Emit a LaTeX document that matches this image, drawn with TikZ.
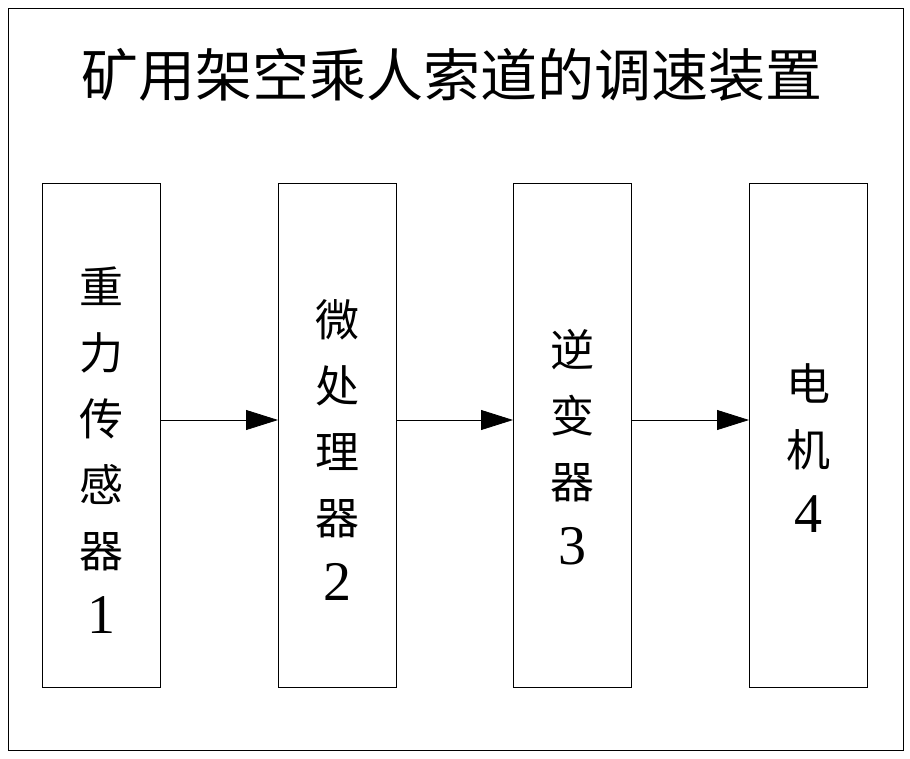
\documentclass[tikz,border=0pt]{standalone}
\usepackage{fontspec}
\setmainfont{Liberation Serif}
\newfontfamily\cjk{Noto Sans CJK SC}
\usetikzlibrary{arrows.meta}
\begin{document}
\begin{tikzpicture}[x=1pt,y=-1pt,
  box/.style={draw,line width=0.8pt,minimum width=118pt,minimum height=504pt,anchor=north west,inner sep=0pt},
  lab/.style={align=center,font=\fontsize{44}{66}\selectfont},
  arr/.style={-{Triangle[length=32pt,width=20pt]},line width=0.8pt}]
\useasboundingbox (0,0) rectangle (910,758);
\node[draw,line width=0.8pt,minimum width=895pt,minimum height=742pt,anchor=north west,inner sep=0pt] (frame) at (8,8) {};
\node[font=\fontsize{57}{60}\selectfont\cjk] (title) at (452,75) {矿用架空乘人索道的调速装置};
\node[box] (b1) at (42,183) {};
\node[box] (b2) at (278,183) {};
\node[box] (b3) at (513,183) {};
\node[box] (b4) at (749,183) {};
\node[lab] (t1) at (101,450) {{\cjk 重}\\{\cjk 力}\\{\cjk 传}\\{\cjk 感}\\{\cjk 器}\\{\fontsize{56}{66}\selectfont 1}};
\node[lab] (t2) at (337,450) {{\cjk 微}\\{\cjk 处}\\{\cjk 理}\\{\cjk 器}\\{\fontsize{56}{66}\selectfont 2}};
\node[lab] (t3) at (572,447) {{\cjk 逆}\\{\cjk 变}\\{\cjk 器}\\{\fontsize{56}{66}\selectfont 3}};
\node[lab] (t4) at (808,448) {{\cjk 电}\\{\cjk 机}\\{\fontsize{56}{66}\selectfont 4}};
\draw[arr] (b1.east |- 0,420) -- (b2.west |- 0,420);
\draw[arr] (b2.east |- 0,420) -- (b3.west |- 0,420);
\draw[arr] (b3.east |- 0,420) -- (b4.west |- 0,420);
\end{tikzpicture}
\end{document}
